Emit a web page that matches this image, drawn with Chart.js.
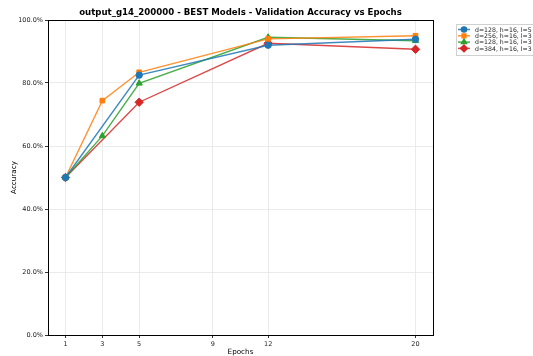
<!DOCTYPE html>
<html>
<head>
<meta charset="utf-8">
<script src="https://cdn.jsdelivr.net/npm/chart.js@4"></script>
<style>
html,body{margin:0;padding:0;background:#fff;}
#wrap{width:533px;height:356px;position:relative;}
</style>
</head>
<body>
<div id="wrap"><canvas id="c" width="533" height="356"></canvas></div>
<script>
const chartTitle = "output_g14_200000 - BEST Models - Validation Accuracy vs Epochs";
const xTickValues = [1, 3, 5, 9, 12, 20];
const yTickValues = [0, 20, 40, 60, 80, 100];
const seriesLabels = ["d=128, h=16, l=5", "d=256, h=16, l=3", "d=128, h=16, l=3", "d=384, h=16, l=3"];
const epochsA = [1, 5, 12, 20];
const epochsB = [1, 3, 5, 12, 20];
const accD128L5 = [50.0, 82.5, 92.0, 93.9];
const accD256L3 = [50.0, 74.4, 83.4, 94.0, 95.0];
const accD128L3 = [50.0, 63.2, 79.9, 94.5, 93.4];
const accD384L3 = [50.0, 73.9, 92.6, 90.7];

const colors = ["#1f77b4", "#ff7f0e", "#2ca02c", "#d62728"];
const lineColors = ["rgba(31,119,180,0.85)", "rgba(255,127,14,0.85)", "rgba(44,160,44,0.85)", "rgba(214,39,40,0.85)"];
const styles = ["circle", "rect", "triangle", "rectRot"];
const radii = [3.2, 3.3, 3.6, 4.2];

function pts(xs, ys){ return xs.map((x,i)=>({x:x, y:ys[i]})); }
const seriesData = [pts(epochsA, accD128L5), pts(epochsB, accD256L3), pts(epochsB, accD128L3), pts(epochsA, accD384L3)];

const FONT = "'DejaVu Sans', sans-serif";

const frameLegend = {
  id: 'frameLegend',
  afterDraw(chart){
    const {ctx, chartArea:a} = chart;
    ctx.save();
    ctx.strokeStyle = '#000';
    ctx.lineWidth = 1;
    ctx.strokeRect(Math.round(a.left)+0.5, Math.round(a.top)+0.5, Math.round(a.right-a.left), Math.round(a.bottom-a.top));
    // title
    ctx.fillStyle = '#000';
    ctx.font = "bold 8.6px " + FONT;
    ctx.textAlign = 'center';
    ctx.textBaseline = 'middle';
    ctx.fillText(chartTitle, (a.left + a.right)/2, 13);
    // legend
    const lx = 456.5, ly = 24.5, lw = 90, lh = 31;
    ctx.fillStyle = 'rgba(255,255,255,0.8)';
    ctx.fillRect(lx, ly, lw, lh);
    ctx.strokeStyle = '#d0d0d0';
    ctx.strokeRect(lx, ly, lw, lh);
    ctx.font = "6.2px " + FONT;
    ctx.textBaseline = 'middle';
    ctx.textAlign = 'left';
    chart.data.datasets.forEach((ds, i) => {
      const y = 29.5 + i*6.3;
      ctx.strokeStyle = ds.borderColor;
      ctx.lineWidth = 1.5;
      ctx.beginPath(); ctx.moveTo(458, y); ctx.lineTo(470, y); ctx.stroke();
      ctx.fillStyle = ds.pointBackgroundColor;
      ctx.strokeStyle = ds.pointBorderColor;
      Chart.helpers.drawPoint(ctx, {pointStyle: ds.pointStyle, radius: ds.pointRadius*0.8, borderWidth: 1}, 464, y);
      ctx.fillStyle = '#222';
      ctx.fillText(ds.label, 475, y+0.5);
    });
    ctx.restore();
  }
};

new Chart(document.getElementById('c'), {
  type: 'line',
  data: {
    datasets: seriesLabels.map((lab, i) => ({
      label: lab,
      data: seriesData[i],
      borderColor: lineColors[i],
      backgroundColor: colors[i],
      pointBackgroundColor: colors[i],
      pointBorderColor: colors[i],
      pointStyle: styles[i],
      pointRadius: radii[i],
      pointBorderWidth: 1,
      borderWidth: 1.4,
      tension: 0,
      fill: false
    }))
  },
  options: {
    responsive: false,
    animation: false,
    devicePixelRatio: 1,
    layout: { padding: { left: 10, right: 100, top: 20, bottom: 0 } },
    plugins: {
      legend: { display: false },
      tooltip: { enabled: false },
      title: { display: false }
    },
    scales: {
      x: {
        type: 'linear',
        min: 0.05, max: 20.95,
        afterBuildTicks: s => { s.ticks = xTickValues.map(v => ({value: v})); },
        afterFit: s => { s.height = 21; },
        ticks: { color: '#222', font: { family: FONT, size: 6.5 }, padding: 2, maxRotation: 0, autoSkip: false },
        grid: { color: '#e6e6e6', lineWidth: 0.8, tickColor: '#000', tickLength: 3, drawTicks: true },
        border: { color: '#000', width: 1 },
        title: { display: true, text: 'Epochs', color: '#000', font: { family: FONT, size: 7.2 }, padding: { top: 0, bottom: 0 } }
      },
      y: {
        min: 0, max: 100,
        afterBuildTicks: s => { s.ticks = yTickValues.map(v => ({value: v})); },
        afterFit: s => { s.width = 38; },
        ticks: { color: '#222', font: { family: FONT, size: 6.5 }, padding: 2, callback: v => v.toFixed(1) + '%' },
        grid: { color: '#e6e6e6', lineWidth: 0.8, tickColor: '#000', tickLength: 3, drawTicks: true },
        border: { color: '#000', width: 1 },
        title: { display: true, text: 'Accuracy', color: '#000', font: { family: FONT, size: 7.2 }, padding: { top: 0, bottom: 0 } }
      }
    }
  },
  plugins: [frameLegend]
});
</script>
</body>
</html>
